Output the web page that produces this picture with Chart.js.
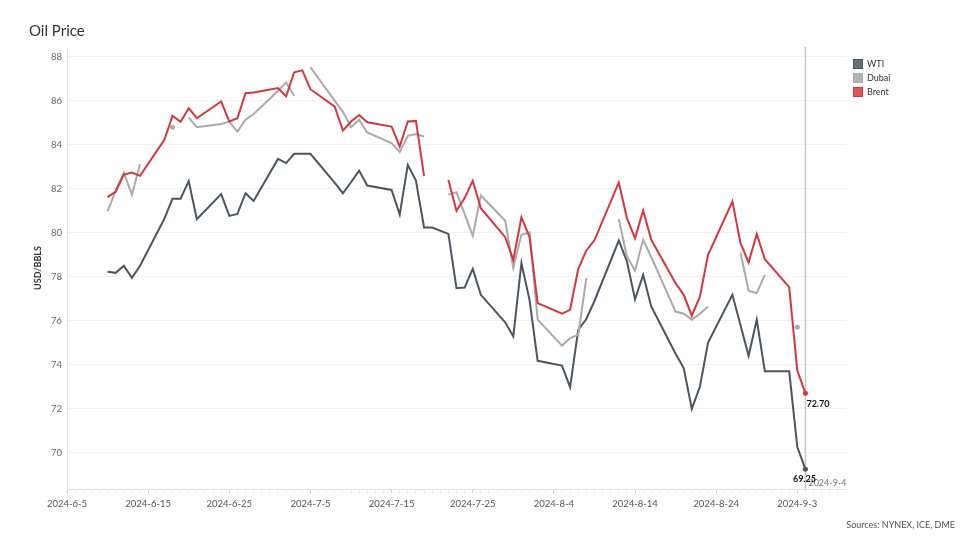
<!DOCTYPE html>
<html>
<head>
<meta charset="utf-8">
<script src="https://cdn.jsdelivr.net/npm/chart.js@4.4.1/dist/chart.umd.min.js"></script>
<style>
  html, body { margin: 0; padding: 0; background: #fff; }
  #wrap { width: 980px; height: 554px; }
</style>
</head>
<body>
<div id="wrap"><canvas id="canvas" width="980" height="554"></canvas></div>
<script>
// trading days (null = no value shown)
var dates = ['2024-06-10','2024-06-11','2024-06-12','2024-06-13','2024-06-14',
  '2024-06-17','2024-06-18','2024-06-19','2024-06-20','2024-06-21',
  '2024-06-24','2024-06-25','2024-06-26','2024-06-27','2024-06-28',
  '2024-07-01','2024-07-02','2024-07-03','2024-07-04','2024-07-05',
  '2024-07-08','2024-07-09','2024-07-10','2024-07-11','2024-07-12',
  '2024-07-15','2024-07-16','2024-07-17','2024-07-18','2024-07-19','2024-07-20',
  '2024-07-22','2024-07-23','2024-07-24','2024-07-25','2024-07-26',
  '2024-07-29','2024-07-30','2024-07-31','2024-08-01','2024-08-02',
  '2024-08-05','2024-08-06','2024-08-07','2024-08-08','2024-08-09',
  '2024-08-12','2024-08-13','2024-08-14','2024-08-15','2024-08-16',
  '2024-08-19','2024-08-20','2024-08-21','2024-08-22','2024-08-23',
  '2024-08-26','2024-08-27','2024-08-28','2024-08-29','2024-08-30',
  '2024-09-02','2024-09-03','2024-09-04'];

var wti = [78.23,78.18,78.50,77.95,78.50,
  80.64,81.55,81.55,82.35,80.62,
  81.76,80.77,80.86,81.80,81.45,
  83.36,83.17,83.59,83.59,83.59,
  82.27,81.80,82.30,82.83,82.15,
  81.95,80.83,83.09,82.38,80.24,80.24,
  79.95,77.48,77.51,78.36,77.18,
  75.93,75.29,78.62,76.95,74.18,
  73.96,72.98,75.59,76.08,76.90,
  79.65,78.70,76.98,78.09,76.65,
  74.50,73.85,71.99,73.01,75.01,
  77.18,75.80,74.41,76.05,73.70,
  73.70,70.26,69.25];

var dubai = [80.97,81.92,82.74,81.73,83.12,
  null,84.80,null,85.24,84.80,
  84.95,85.06,84.60,85.14,85.40,
  86.45,86.83,86.23,null,87.53,
  86.00,85.50,84.80,85.14,84.56,
  84.08,83.67,84.41,84.49,84.38,null,
  81.73,81.85,80.86,79.86,81.70,
  80.55,78.40,79.91,80.02,76.05,
  74.87,75.21,75.36,77.94,null,
  80.62,78.92,78.29,79.68,78.90,
  76.42,76.32,76.05,76.32,76.65,
  null,79.10,77.36,77.26,78.09,
  null,75.70,null];

var brent = [81.62,81.88,82.65,82.74,82.59,
  84.23,85.32,85.05,85.67,85.21,
  85.97,85.06,85.21,86.35,86.38,
  86.58,86.20,87.30,87.39,86.53,
  85.74,84.65,85.06,85.36,85.03,
  84.83,83.92,85.06,85.09,82.59,null,
  82.40,81.00,81.58,82.37,81.12,
  79.80,78.77,80.71,79.80,76.80,
  76.32,76.50,78.35,79.20,79.66,
  82.29,80.67,79.76,81.02,79.68,
  77.71,77.18,76.23,77.11,79.00,
  81.42,79.53,78.65,79.95,78.80,
  77.53,73.74,72.70];

var seriesNames = ['WTI', 'Dubai', 'Brent'];
var seriesColors = ['#4b5661', '#aaaaaa', '#d6373e'];
var legendColors = ['#66717b', '#b4b4b4', '#e0555a'];
var yTicks = [70, 72, 74, 76, 78, 80, 82, 84, 86, 88];
var startDate = '2024-06-05';
var endDay = 96;
var title = 'Oil Price';
var yTitle = 'USD/BBLS';
var source = 'Sources: NYNEX, ICE, DME';

function dayOf(s) {
  return (Date.parse(s + 'T00:00:00Z') - Date.parse(startDate + 'T00:00:00Z')) / 86400000;
}
function dayLabel(d) {
  var t = new Date(Date.parse(startDate + 'T00:00:00Z') + d * 86400000);
  return t.getUTCFullYear() + '-' + (t.getUTCMonth() + 1) + '-' + t.getUTCDate();
}

var FONT = 'Lato, "Open Sans", sans-serif';
var lastDay = dayOf(dates[dates.length - 1]);

function pts(arr) {
  return dates.map(function (d, i) { return { x: dayOf(d), y: arr[i] }; });
}

function pointSize(ctx) {
  var data = ctx.dataset.data, i = ctx.dataIndex;
  if (data[i].y == null) return 0;
  var prev = i > 0 ? data[i - 1].y : null;
  var next = i < data.length - 1 ? data[i + 1].y : null;
  if (i === data.length - 1) return 2.5;
  if (prev == null && next == null) return 2.5;
  return 0;
}

var sets = [wti, dubai, brent].map(function (arr, k) {
  return {
    label: seriesNames[k],
    data: pts(arr),
    borderColor: seriesColors[k],
    backgroundColor: seriesColors[k],
    borderWidth: 2,
    pointRadius: pointSize,
    pointBorderWidth: 0,
    tension: 0,
    spanGaps: false
  };
});
// draw Brent on top, WTI under it
sets[0].order = 2; sets[1].order = 1; sets[2].order = 0;

var extras = {
  id: 'extras',
  beforeDatasetsDraw: function (chart) {
    var c = chart.ctx, a = chart.chartArea;
    var x = chart.scales.x.getPixelForValue(lastDay);
    c.save();
    c.strokeStyle = '#c6c6c6';
    c.lineWidth = 1.5;
    c.beginPath();
    c.moveTo(x, a.top);
    c.lineTo(x, a.bottom);
    c.stroke();
    c.restore();
  },
  afterDraw: function (chart) {
    var c = chart.ctx, a = chart.chartArea;
    var sx = chart.scales.x, sy = chart.scales.y;
    c.save();
    // title
    c.fillStyle = '#333';
    c.font = '15px ' + FONT;
    c.textAlign = 'left';
    c.textBaseline = 'middle';
    c.fillText(title, 29, 31);
    // y axis title
    c.save();
    c.translate(38, (a.top + a.bottom) / 2);
    c.rotate(-Math.PI / 2);
    c.font = 'bold 9px ' + FONT;
    c.textAlign = 'center';
    c.fillStyle = '#333';
    c.fillText(yTitle, 0, 0);
    c.restore();
    // legend
    for (var k = 0; k < seriesNames.length; k++) {
      var ly = 64 + k * 14;
      c.fillStyle = legendColors[k];
      c.fillRect(853, ly - 5, 10, 10);
      c.strokeStyle = seriesColors[k];
      c.lineWidth = 1;
      c.strokeRect(853.5, ly - 4.5, 9, 9);
      c.fillStyle = '#333';
      c.font = '9px ' + FONT;
      c.textAlign = 'left';
      c.fillText(seriesNames[k], 867, ly);
    }
    // source
    c.fillStyle = '#555';
    c.font = '9px ' + FONT;
    c.textAlign = 'right';
    c.fillText(source, 955, 525);
    // reference line date
    var x = sx.getPixelForValue(lastDay);
    c.fillStyle = '#777';
    c.textAlign = 'left';
    c.fillText(dayLabel(lastDay), x + 3, 483);
    // end labels
    var n = dates.length - 1;
    c.fillStyle = '#111';
    c.font = 'bold 9px ' + FONT;
    c.textAlign = 'left';
    c.fillText(brent[n].toFixed(2), x + 1, sy.getPixelForValue(brent[n]) + 11);
    c.textAlign = 'center';
    c.fillText(wti[n].toFixed(2), x - 1, sy.getPixelForValue(wti[n]) + 10);
    c.restore();
  }
};

window.onload = function () {
  var ctx = document.getElementById('canvas').getContext('2d');
  window.oilChart = new Chart(ctx, {
    type: 'line',
    data: { datasets: sets },
    options: {
      responsive: false,
      animation: false,
      layout: { padding: { left: 0, top: 47, right: 134, bottom: 0 } },
      scales: {
        x: {
          type: 'linear',
          min: 0,
          max: endDay,
          afterBuildTicks: function (s) {
            var t = [];
            for (var d = 0; d <= endDay; d++) t.push({ value: d });
            s.ticks = t;
          },
          afterFit: function (s) { s.height = 65; },
          grid: {
            drawOnChartArea: false,
            tickLength: 4,
            tickColor: function (ctx) {
              return ctx.tick && ctx.tick.value % 10 === 0 ? '#cfcfcf' : '#ececec';
            }
          },
          border: { color: '#e4e4e4' },
          ticks: {
            autoSkip: false,
            maxRotation: 0,
            padding: 5,
            color: '#555',
            font: { family: FONT, size: 9.5 },
            callback: function (v) { return v % 10 === 0 ? dayLabel(v) : ''; }
          }
        },
        y: {
          min: 68.35,
          max: 88.45,
          afterBuildTicks: function (s) {
            s.ticks = yTicks.map(function (v) { return { value: v }; });
          },
          afterFit: function (s) { s.width = 67; },
          grid: { color: '#f1f1f1', drawTicks: false },
          border: { color: '#e4e4e4' },
          ticks: {
            padding: 5,
            color: '#666',
            font: { family: FONT, size: 9.5 }
          }
        }
      },
      plugins: {
        legend: { display: false },
        tooltip: { enabled: false }
      }
    },
    plugins: [extras]
  });
};
</script>
</body>
</html>
